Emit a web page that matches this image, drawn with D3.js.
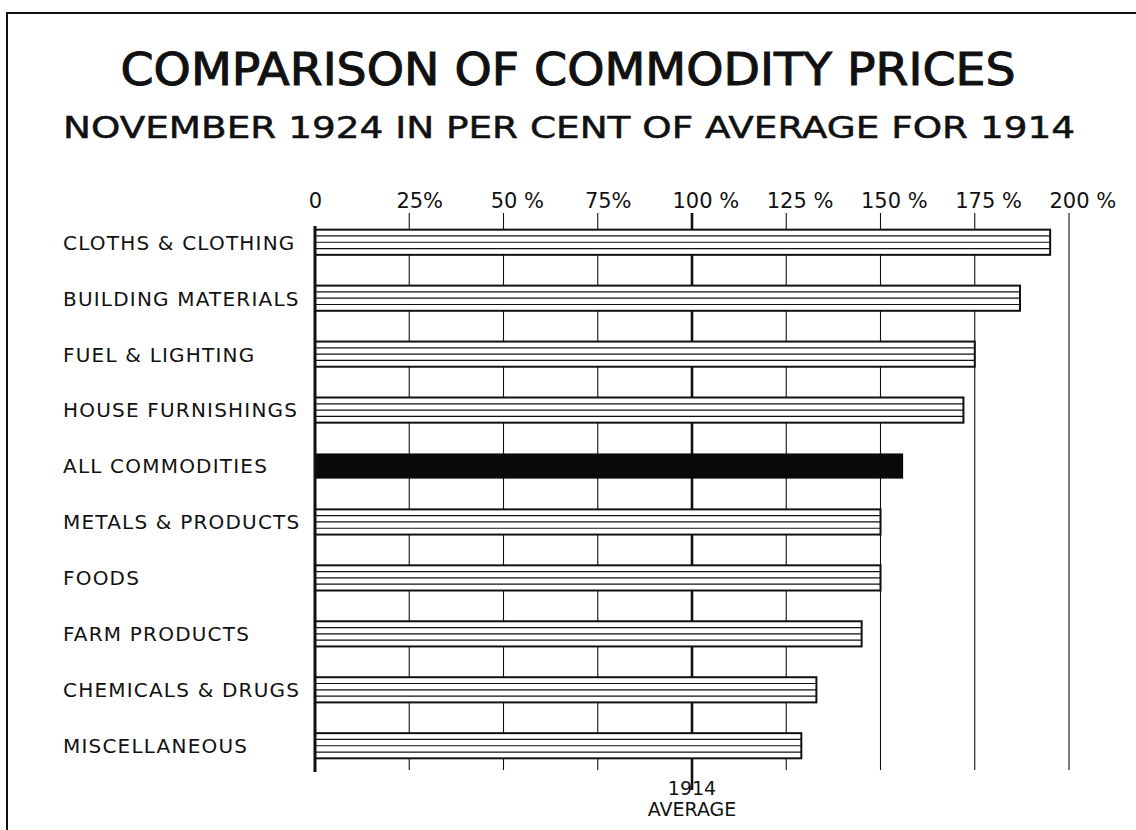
<!DOCTYPE html>
<html>
<head>
<meta charset="utf-8">
<script src="https://cdn.jsdelivr.net/npm/d3@7/dist/d3.min.js"></script>
<style>
  html, body { margin: 0; padding: 0; background: #fff; }
  svg { display: block; }
  text { font-family: "DejaVu Sans", "Noto Sans", sans-serif; fill: #111; }
</style>
</head>
<body>
<svg id="chart" width="1136" height="830"></svg>
<script>
// Commodity groups, November 1924, in per cent of the 1914 average
const categories = [
  "CLOTHS & CLOTHING", "BUILDING MATERIALS", "FUEL & LIGHTING",
  "HOUSE FURNISHINGS", "ALL COMMODITIES", "METALS & PRODUCTS",
  "FOODS", "FARM PRODUCTS", "CHEMICALS & DRUGS", "MISCELLANEOUS"
];
const values = [195, 187, 175, 172, 156, 150, 150, 145, 133, 129];
const totalLabel = "ALL COMMODITIES";
const tickValues = [0, 25, 50, 75, 100, 125, 150, 175, 200];
const tickNumbers = ["0", "25", "50", "75", "100", "125", "150", "175", "200"];
const tickSuffixes = ["", "%", " %", "%", " %", " %", " %", " %", " %"];

const svg = d3.select("#chart");
const ink = "#111";

// frame
svg.append("path")
  .attr("d", "M7,835 L7,13 L1140,13")
  .attr("fill", "none").attr("stroke", ink).attr("stroke-width", 2);

// titles
svg.append("text")
  .attr("x", 568).attr("y", 85)
  .attr("text-anchor", "middle")
  .attr("font-size", 44)
  .attr("stroke", ink).attr("stroke-width", 1)
  .attr("textLength", 895).attr("lengthAdjust", "spacingAndGlyphs")
  .text("COMPARISON OF COMMODITY PRICES");
svg.append("text")
  .attr("x", 569).attr("y", 138)
  .attr("text-anchor", "middle")
  .attr("font-size", 30)
  .attr("stroke", ink).attr("stroke-width", 0.5)
  .attr("textLength", 1012).attr("lengthAdjust", "spacingAndGlyphs")
  .text("NOVEMBER 1924 IN PER CENT OF AVERAGE FOR 1914");

const x = d3.scaleLinear().domain([0, 200]).range([315, 1069]);
const y = d3.scaleBand().domain(categories).range([214, 774]).paddingInner(0.55).paddingOuter(0.28);

// gridlines
const grid = svg.append("g");
tickValues.forEach(v => {
  if (v === 0) return;
  grid.append("line")
    .attr("x1", x(v)).attr("x2", x(v))
    .attr("y1", 213).attr("y2", v === 100 ? 790 : 770)
    .attr("stroke", ink)
    .attr("stroke-width", v === 100 ? 2.6 : 1.1);
});

// tick labels: the number sits centred on its gridline, the per cent sign trails it
const axisTop = d3.axisTop(x).tickValues(tickValues)
  .tickFormat((d, i) => tickNumbers[i]).tickSize(0).tickPadding(0);
const ax = svg.append("g").attr("transform", "translate(0,208)").call(axisTop);
ax.select(".domain").remove();
ax.selectAll("text")
  .attr("font-size", 21)
  .attr("font-family", "DejaVu Sans, sans-serif")
  .attr("fill", ink)
  .attr("dy", "0");
ax.selectAll(".tick").each(function(d, i) {
  if (!tickSuffixes[i]) return;
  const t = d3.select(this).select("text");
  const w = t.node().getComputedTextLength();
  d3.select(this).append("text")
    .attr("x", w / 2)
    .attr("font-size", 21)
    .attr("font-family", "DejaVu Sans, sans-serif")
    .attr("fill", ink)
    .attr("text-anchor", "start")
    .attr("xml:space", "preserve")
    .style("white-space", "pre")
    .text(tickSuffixes[i]);
});

// bars
const bars = svg.append("g");
categories.forEach((c, i) => {
  const y0 = y(c), h = y.bandwidth(), x0 = x(0), w = x(values[i]) - x(0);
  if (c === totalLabel) {
    bars.append("rect").attr("x", x0).attr("y", y0).attr("width", w).attr("height", h)
      .attr("fill", "#0a0a0a");
  } else {
    bars.append("rect").attr("x", x0).attr("y", y0).attr("width", w).attr("height", h)
      .attr("fill", "#fff").attr("stroke", ink).attr("stroke-width", 2);
    [0.25, 0.5, 0.75].forEach(f => {
      bars.append("line")
        .attr("x1", x0).attr("x2", x0 + w)
        .attr("y1", y0 + h * f).attr("y2", y0 + h * f)
        .attr("stroke", ink).attr("stroke-width", 1.2);
    });
  }
});

// zero line
svg.append("line")
  .attr("x1", x(0)).attr("x2", x(0))
  .attr("y1", 226).attr("y2", 772)
  .attr("stroke", ink).attr("stroke-width", 3);

// category labels
svg.append("g").selectAll("text").data(categories).join("text")
  .attr("x", 63)
  .attr("y", d => y(d) + y.bandwidth() / 2)
  .attr("dy", "0.37em")
  .attr("font-size", 20)
  .attr("letter-spacing", 1.2)
  .text(d => d);

// baseline note
svg.append("text").attr("x", x(100)).attr("y", 795)
  .attr("text-anchor", "middle").attr("font-size", 19).text("1914");
svg.append("text").attr("x", x(100)).attr("y", 816)
  .attr("text-anchor", "middle").attr("font-size", 19).text("AVERAGE");
</script>
</body>
</html>
